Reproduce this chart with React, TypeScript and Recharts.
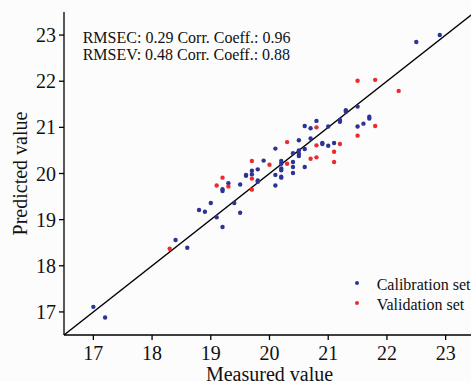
import { ScatterChart, Scatter, XAxis, YAxis, ReferenceLine } from "recharts";

// calibration set (measured, predicted)
const calMeasured = [
  17.0, 17.2, 18.4, 18.6, 18.8, 18.9, 19.0, 19.1, 19.2, 19.2, 19.2, 19.3, 19.4, 19.5, 19.5, 19.6, 19.6,
  19.7, 19.7, 19.8, 19.8, 19.8, 19.9, 20.1, 20.1, 20.1, 20.2, 20.2, 20.2, 20.2, 20.2, 20.2, 20.4, 20.4,
  20.4, 20.4, 20.5, 20.5, 20.5, 20.5, 20.6, 20.6, 20.6, 20.7, 20.7, 20.8, 20.9, 20.9, 21.0, 21.0, 21.1,
  21.2, 21.2, 21.3, 21.3, 21.5, 21.5, 21.6, 21.7, 21.7, 22.5, 22.9,
];
const calPredicted = [
  17.11, 16.88, 18.56, 18.39, 19.21, 19.17, 19.36, 19.05, 18.84, 19.66, 19.62, 19.79, 19.36, 19.15, 19.76, 19.97, 19.95,
  20.06, 19.98, 20.09, 19.85, 19.82, 20.28, 20.54, 19.97, 19.74, 20.27, 20.21, 20.11, 20.07, 19.93, 19.91, 20.44, 20.25,
  20.14, 20.01, 20.72, 20.5, 20.43, 20.38, 21.03, 20.53, 20.14, 20.98, 20.76, 21.14, 20.66, 20.64, 20.6, 21.02, 20.66,
  21.16, 21.12, 21.37, 21.34, 21.45, 21.02, 21.08, 21.23, 21.19, 22.85, 23.0,
];

// validation set (measured, predicted)
const valMeasured = [
  18.3, 19.1, 19.2, 19.3, 19.7, 19.7, 19.7, 20.0, 20.3, 20.3, 20.7, 20.8, 20.8, 20.8, 21.1, 21.1, 21.2,
  21.5, 21.5, 21.8, 21.8, 22.2,
];
const valPredicted = [
  18.37, 19.74, 19.91, 19.72, 20.27, 19.89, 19.65, 20.19, 20.68, 20.21, 20.32, 21.0, 20.61, 20.35, 20.47, 20.25, 20.64,
  22.01, 20.82, 22.03, 21.03, 21.79,
];

const axisDomain = [16.5, 23.5];
const axisTicks = [17, 18, 19, 20, 21, 22, 23];
const stats = ["RMSEC: 0.29 Corr. Coeff.: 0.96", "RMSEV: 0.48 Corr. Coeff.: 0.88"];
const seriesNames = ["Calibration set", "Validation set"];

const BLUE = "#2b3494";
const RED = "#ee2a2a";
const FONT = "Liberation Serif, serif";

const calData = calMeasured.map((x, i) => ({ x, y: calPredicted[i] }));
const valData = valMeasured.map((x, i) => ({ x, y: valPredicted[i] }));

const Dot = (color: string) => (p: any) => <circle cx={p.cx} cy={p.cy} r={2.2} fill={color} />;

const YTitle = (p: any) => {
  const vb = p.viewBox;
  const cx = 26.5;
  const cy = vb.y + vb.height / 2;
  return (
    <text x={cx} y={cy} textAnchor="middle" transform={`rotate(-90, ${cx}, ${cy})`}
      fontFamily={FONT} fontSize={20} fill="#111">
      Predicted value
    </text>
  );
};

const XTitle = (p: any) => {
  const vb = p.viewBox;
  return (
    <text x={vb.x + vb.width / 2} y={381} textAnchor="middle" fontFamily={FONT} fontSize={20} fill="#111">
      Measured value
    </text>
  );
};

export default function App() {
  return (
    <div style={{ position: "absolute", left: 0, top: 0, width: 471, height: 381, overflow: "hidden",
      background: "#fcfcfc", fontFamily: FONT }}>
      <ScatterChart width={481} height={381} margin={{ top: 12, right: 6, bottom: 0, left: 0 }}
        style={{ fontFamily: FONT }}>
        <XAxis type="number" dataKey="x" domain={axisDomain} ticks={axisTicks} allowDataOverflow
          height={46} tickSize={5} tickMargin={6} stroke="#000" strokeWidth={1.3}
          tick={{ fontFamily: FONT, fontSize: 20, fill: "#111" }} label={<XTitle />} />
        <YAxis type="number" dataKey="y" domain={axisDomain} ticks={axisTicks} allowDataOverflow
          width={64} tickSize={5} tickMargin={3} stroke="#000" strokeWidth={1.3}
          tick={{ fontFamily: FONT, fontSize: 20, fill: "#111" }} label={<YTitle />} />
        <ReferenceLine segment={[{ x: axisDomain[0], y: axisDomain[0] }, { x: axisDomain[1], y: axisDomain[1] }]}
          stroke="#000" strokeWidth={1.5} />
        <Scatter name={seriesNames[0]} data={calData} fill={BLUE} shape={Dot(BLUE)} isAnimationActive={false} />
        <Scatter name={seriesNames[1]} data={valData} fill={RED} shape={Dot(RED)} isAnimationActive={false} />
        {stats.map((s, i) => (
          <text key={s} x={82.7} y={43.3 + i * 17} fontFamily={FONT} fontSize={16} fill="#111">{s}</text>
        ))}
        {seriesNames.map((s, i) => (
          <g key={s}>
            <circle cx={357} cy={283 + i * 20} r={2} fill={i === 0 ? BLUE : RED} />
            <text x={376.7} y={289.5 + i * 20} fontFamily={FONT} fontSize={16} fill="#111">{s}</text>
          </g>
        ))}
      </ScatterChart>
    </div>
  );
}
